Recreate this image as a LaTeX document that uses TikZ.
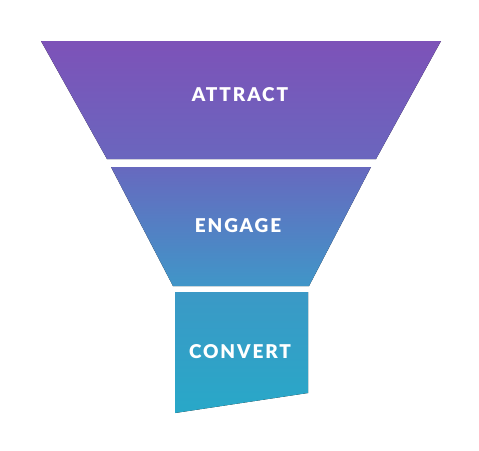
\documentclass[tikz,border=0pt]{standalone}
\usepackage{fontspec}
\setmainfont{Lato}
\newfontfamily\funnelfont[LetterSpace=10, BoldFont={Lato Black}]{Lato}
\definecolor{attracttop}{HTML}{7D52B8}
\definecolor{attractmid}{HTML}{7956B9}
\definecolor{attractbot}{HTML}{6A66BE}
\definecolor{engagetop}{HTML}{6769BF}
\definecolor{engagebot}{HTML}{4096C8}
\definecolor{converttop}{HTML}{3B99C6}
\definecolor{convertbot}{HTML}{28A8C8}

\begin{document}
\begin{tikzpicture}[x=1pt, y=-1pt,
  stage/.style={draw=none},
  stagetext/.style={text=white, inner sep=0pt, font=\funnelfont\bfseries\fontsize{19}{21}\selectfont}
]
\useasboundingbox (0,0) rectangle (479,450);

% funnel sections
\fill[stage, top color=attracttop, middle color=attractmid, bottom color=attractbot]
  (41,41) -- (441,41) -- (376,159) -- (107,159) -- cycle;
\fill[stage, top color=engagetop, bottom color=engagebot]
  (111,167) -- (371,167) -- (309,286) -- (173,286) -- cycle;
\fill[stage, top color=converttop, bottom color=convertbot]
  (175,292) -- (308,292) -- (308,393) -- (175,413) -- cycle;

% labels
\node[stagetext] (attract) at (240,95) {ATTRACT};
\node[stagetext] (engage) at (238,226) {ENGAGE};
\node[stagetext] (convert) at (240,352) {CONVERT};
\end{tikzpicture}
\end{document}
